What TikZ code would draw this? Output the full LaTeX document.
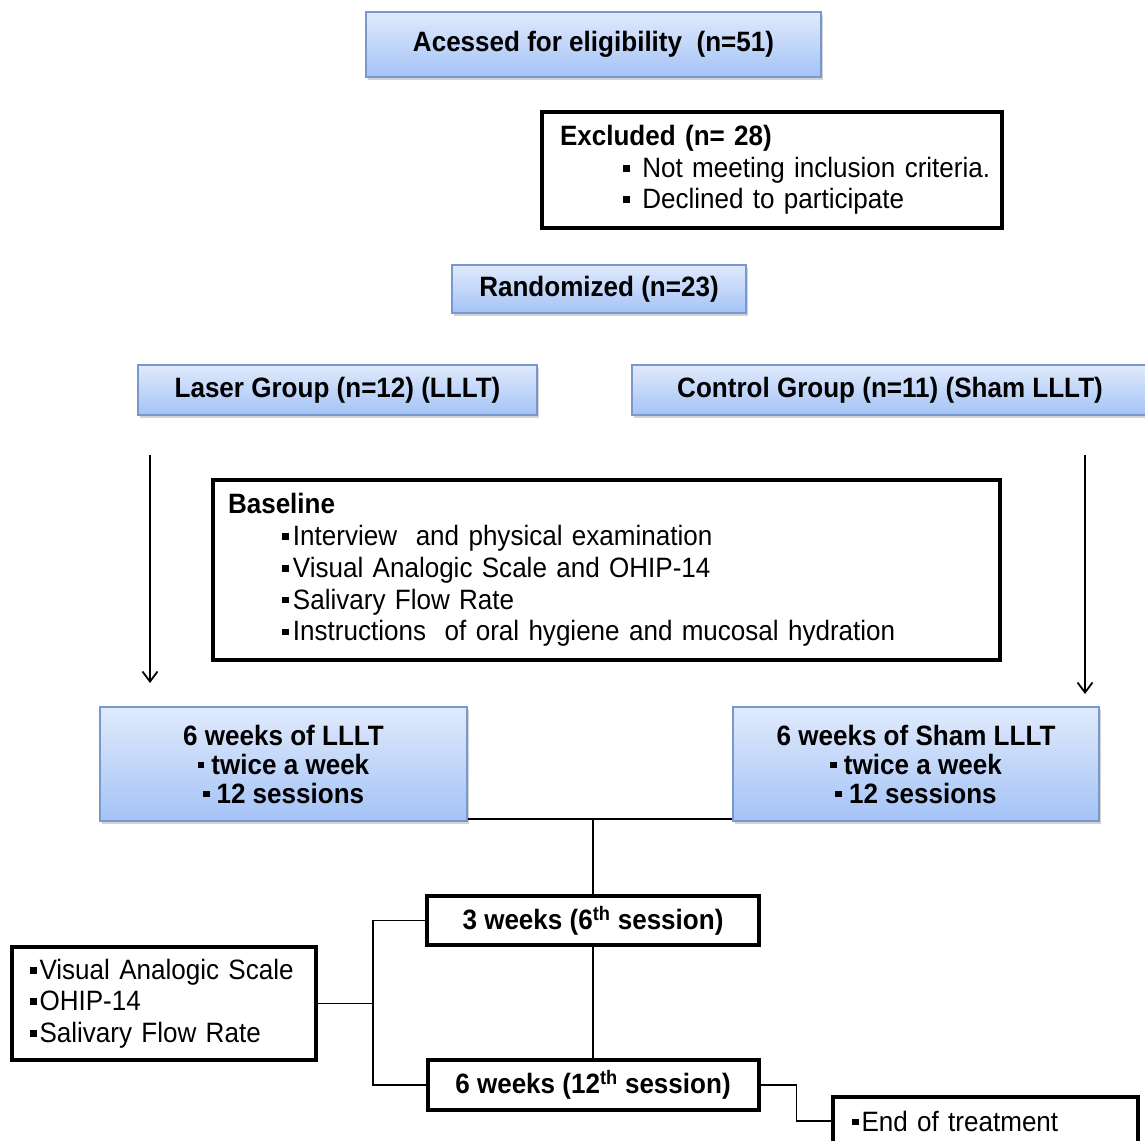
\documentclass[tikz,border=0pt]{standalone}
\usepackage{fontspec}
\setmainfont{Liberation Sans}[FakeStretch=0.93]
\usetikzlibrary{shadows,arrows.meta}
\definecolor{boxtop}{RGB}{224,234,252}
\definecolor{boxbot}{RGB}{164,195,246}
\definecolor{boxedge}{RGB}{122,152,208}
\newcommand{\sqb}{\raisebox{0.2em}{\rule{0.24em}{0.24em}}}
\begin{document}
\begin{tikzpicture}[x=1pt,y=-1pt,
  bluebox/.style={draw=boxedge, line width=1.3pt, top color=boxtop, bottom color=boxbot,
    drop shadow={shadow xshift=2pt,shadow yshift=-3pt,opacity=0.35},
    font=\fontsize{28}{29}\selectfont\bfseries, align=center, inner sep=0pt},
  blackbox/.style={draw=black, line width=4pt, fill=white,
    font=\fontsize{28}{31.5}\selectfont, inner sep=0pt},
  conn/.style={line width=1.9pt},
  arr/.style={line width=1.8pt, -{Straight Barb[length=10pt,width=15pt]}}]
\useasboundingbox (0,0) rectangle (1145,1140);

\node[bluebox, minimum width=455pt, minimum height=65pt] (acc) at (593.5,44.5) {Acessed for eligibility\ \ (n=51)};

\node[blackbox, minimum width=460pt, minimum height=116pt, align=left, text width=440pt] (excl) at (772,170)
  {\hspace*{8pt}\textbf{Excluded (n= 28)}\\
   \hspace*{71pt}\sqb\hspace{0.45em}Not meeting inclusion criteria.\\
   \hspace*{71pt}\sqb\hspace{0.45em}Declined to participate};

\node[bluebox, minimum width=294pt, minimum height=48pt] (rand) at (599,289) {Randomized (n=23)};

\node[bluebox, minimum width=399pt, minimum height=50pt] (laser) at (337.5,390) {Laser Group (n=12) (LLLT)};
\node[bluebox, minimum width=516pt, minimum height=50pt] (control) at (890,390) {Control Group (n=11) (Sham LLLT)};

\node[blackbox, minimum width=787pt, minimum height=180pt, align=left, text width=757pt, font=\fontsize{28}{31.8}\selectfont] (base) at (606.5,570)
  {\textbf{Baseline}\\
   \hspace*{54pt}\sqb\hspace{0.15em}Interview\ \ and physical examination\\
   \hspace*{54pt}\sqb\hspace{0.15em}Visual Analogic Scale and OHIP-14\\
   \hspace*{54pt}\sqb\hspace{0.15em}Salivary Flow Rate\\
   \hspace*{54pt}\sqb\hspace{0.15em}Instructions\ \ of oral hygiene and mucosal hydration};

\coordinate (la1) at (150,455);
\coordinate (la2) at (150,683);
\coordinate (ra1) at (1085,455);
\coordinate (ra2) at (1085,694);
\draw[arr] (la1) -- (la2);
\draw[arr] (ra1) -- (ra2);

\node[bluebox, minimum width=367pt, minimum height=114pt] (llt) at (283.5,764)
  {6 weeks of LLLT\\ \sqb\hspace{0.25em}twice a week\\ \sqb\hspace{0.25em}12 sessions};
\node[bluebox, minimum width=366pt, minimum height=114pt] (sham) at (916,764)
  {6 weeks of Sham LLLT\\ \sqb\hspace{0.25em}twice a week\\ \sqb\hspace{0.25em}12 sessions};

\node[blackbox, minimum width=332pt, minimum height=49pt, font=\fontsize{28}{31}\selectfont\bfseries] (three) at (593,920.5)
  {3 weeks (6\textsuperscript{th} session)};
\node[blackbox, minimum width=331pt, minimum height=50pt, font=\fontsize{28}{31}\selectfont\bfseries] (six) at (593,1085)
  {6 weeks (12\textsuperscript{th} session)};

\node[blackbox, minimum width=304pt, minimum height=113pt, align=left, text width=268pt] (vas) at (164,1003.5)
  {\sqb\hspace{0.1em}Visual Analogic Scale\\ \sqb\hspace{0.1em}OHIP-14\\ \sqb\hspace{0.1em}Salivary Flow Rate};

\node[blackbox, minimum width=305pt, minimum height=48pt, align=left, text width=267pt] (endt) at (985.5,1121)
  {\sqb\hspace{0.1em}End of treatment};

\coordinate (jn) at (593,819);
\coordinate (bus) at (373,1003.5);
\draw[conn] (llt.south east |- jn) -- (sham.south west |- jn);
\draw[conn] (jn) -- (three.north);
\draw[conn] (three.south) -- (six.north);
\draw[conn] (three.west) -| (bus) |- (six.west);
\draw[conn] (vas.east |- bus) -- (bus);
\draw[conn] (six.east) -- ++(36,0) |- (endt.west);
\end{tikzpicture}
\end{document}
